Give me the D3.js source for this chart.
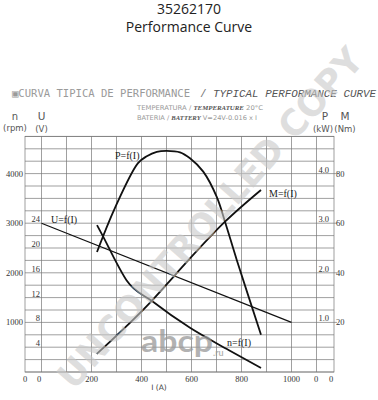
<!DOCTYPE html>
<html>
<head>
<meta charset="utf-8">
<script src="https://cdn.jsdelivr.net/npm/d3@7"></script>
<style>
  html, body { margin: 0; padding: 0; background: #fff; }
  svg { display: block; }
</style>
</head>
<body>
<div id="chart"></div>
<script>
// values
const currentI = [222, 260, 294, 340, 442, 594, 750, 878];
const speedN = [2960, 2600, 2260, 1850, 1430, 890, 440, 80];

const powerI = [222, 294, 386, 421, 461, 501, 554, 594, 647, 701, 734, 781, 878];
const powerP = [2.42, 3.31, 4.21, 4.35, 4.44, 4.46, 4.43, 4.31, 4.04, 3.53, 3.03, 2.26, 0.75];

const torqueI = [221, 441, 534, 594, 734, 878];
const torqueM = [7.3, 28.7, 39.1, 45.8, 60.6, 73.4];

const voltageI = [0, 1000];
const voltageU = [24, 8];

const iTicks = [200, 400, 600, 800, 1000];
const nTicks = [1000, 2000, 3000, 4000];
const uTicks = [4, 8, 12, 16, 20, 24];
const pTicks = [1.0, 2.0, 3.0, 4.0];
const mTicks = [20, 40, 60, 80];

const width = 378, height = 400;
const frame = { left: 25, right: 334, top: 136.4, bottom: 372 };

const svg = d3.select("#chart").append("svg")
    .attr("width", width)
    .attr("height", height);

// scales - all four y axes share the same grid
const x = d3.scaleLinear().domain([0, 1100]).range([41.5, 316.5]);
const yN = d3.scaleLinear().domain([0, 4750]).range([frame.bottom, frame.top]);
const yU = d3.scaleLinear().domain([0, 38]).range([frame.bottom, frame.top]);
const yP = d3.scaleLinear().domain([0, 4.75]).range([frame.bottom, frame.top]);
const yM = d3.scaleLinear().domain([0, 95]).range([frame.bottom, frame.top]);

// header
svg.append("text")
    .attr("x", 189).attr("y", 14)
    .attr("text-anchor", "middle")
    .style("font-family", "'Open Sans', sans-serif")
    .style("font-size", "14px")
    .attr("fill", "#222")
    .text("35262170");

svg.append("text")
    .attr("x", 189).attr("y", 32)
    .attr("text-anchor", "middle")
    .style("font-family", "'Open Sans', sans-serif")
    .style("font-size", "14px")
    .attr("fill", "#222")
    .text("Performance Curve");

svg.append("text")
    .attr("x", 12).attr("y", 97)
    .attr("textLength", 178).attr("lengthAdjust", "spacingAndGlyphs")
    .style("font-family", "'DejaVu Sans Mono', monospace")
    .style("font-size", "10.5px")
    .style("font-weight", "300")
    .attr("fill", "#9a9a9a")
    .text("\u25A3CURVA TIPICA DE PERFORMANCE");

svg.append("text")
    .attr("x", 200).attr("y", 97)
    .style("font-family", "'Liberation Mono', monospace")
    .style("font-size", "11px")
    .attr("fill", "#777")
    .text("/");

svg.append("text")
    .attr("x", 213).attr("y", 97)
    .attr("textLength", 163).attr("lengthAdjust", "spacingAndGlyphs")
    .style("font-family", "'Liberation Mono', monospace")
    .style("font-style", "italic")
    .style("font-size", "11px")
    .attr("fill", "#555")
    .text("TYPICAL PERFORMANCE CURVE");

const sub1 = svg.append("text")
    .attr("x", 137).attr("y", 110)
    .attr("textLength", 126).attr("lengthAdjust", "spacingAndGlyphs")
    .style("font-size", "6.5px")
    .attr("fill", "#999");
sub1.append("tspan").style("font-family", "'DejaVu Sans', sans-serif").text("TEMPERATURA / ");
sub1.append("tspan").style("font-family", "'Liberation Serif', serif")
    .style("font-style", "italic").style("font-weight", "bold").attr("fill", "#555")
    .text("TEMPERATURE");
sub1.append("tspan").style("font-family", "'DejaVu Sans', sans-serif").text("  20\u00B0C");

const sub2 = svg.append("text")
    .attr("x", 137).attr("y", 120)
    .attr("textLength", 120).attr("lengthAdjust", "spacingAndGlyphs")
    .style("font-size", "6.5px")
    .attr("fill", "#999");
sub2.append("tspan").style("font-family", "'DejaVu Sans', sans-serif").text("BATERIA / ");
sub2.append("tspan").style("font-family", "'Liberation Serif', serif")
    .style("font-style", "italic").style("font-weight", "bold").attr("fill", "#555")
    .text("BATTERY");
sub2.append("tspan").style("font-family", "'DejaVu Sans', sans-serif").text("  V=24V-0.016 x I");

// axis headings
const heads = [
    { t: "n", x: 15, y: 120, s: 10 },
    { t: "(rpm)", x: 15, y: 131, s: 8.5 },
    { t: "U", x: 41.5, y: 120, s: 10.5 },
    { t: "(V)", x: 41.5, y: 132, s: 8.5 },
    { t: "P", x: 325, y: 120, s: 10.5 },
    { t: "(kW)", x: 323, y: 132, s: 8.5 },
    { t: "M", x: 345, y: 120, s: 10.5 },
    { t: "(Nm)", x: 345, y: 132, s: 8.5 }
];
svg.selectAll("text.head")
    .data(heads)
    .join("text")
    .attr("class", "head")
    .attr("x", d => d.x).attr("y", d => d.y)
    .attr("text-anchor", "middle")
    .style("font-family", "'DejaVu Sans', sans-serif")
    .style("font-size", d => d.s + "px")
    .attr("fill", "#555")
    .text(d => d.t);

// grid
const grid = svg.append("g")
    .attr("stroke", "#777")
    .attr("stroke-width", 0.7)
    .attr("fill", "none");

grid.selectAll("line.h")
    .data(d3.range(0, 4751, 250))
    .join("line")
    .attr("x1", frame.left).attr("x2", frame.right)
    .attr("y1", d => yN(d)).attr("y2", d => yN(d));

grid.selectAll("line.v")
    .data(d3.range(0, 1101, 100))
    .join("line")
    .attr("x1", d => x(d)).attr("x2", d => x(d))
    .attr("y1", frame.top).attr("y2", frame.bottom);

grid.append("rect")
    .attr("x", frame.left).attr("y", frame.top)
    .attr("width", frame.right - frame.left)
    .attr("height", frame.bottom - frame.top);

// small ticks on the torque side
grid.selectAll("line.mt")
    .data(mTicks)
    .join("line")
    .attr("x1", frame.right).attr("x2", frame.right + 3)
    .attr("y1", d => yM(d)).attr("y2", d => yM(d));

const tickFont = "'Liberation Serif', serif";
const tickSize = "8.5px";

function tickLabels(data, xPos, yPos, anchor, fmt) {
    svg.append("g")
        .selectAll("text")
        .data(data)
        .join("text")
        .attr("x", xPos).attr("y", yPos)
        .attr("text-anchor", anchor)
        .style("font-family", tickFont)
        .style("font-size", tickSize)
        .attr("fill", "#333")
        .text(fmt);
}

tickLabels(nTicks, 23, d => yN(d) + 3, "end", d => d);
tickLabels(uTicks, 40, d => yU(d) - 1, "end", d => d);
tickLabels(pTicks, 329, d => yP(d) - 1, "end", d3.format(".1f"));
tickLabels(mTicks, 336, d => yM(d) + 3, "start", d => d);
tickLabels(iTicks, d => x(d), 382, "middle", d => d);

// zeros under each axis
tickLabels([25, 39, 316, 331], d => d, 382, "middle", () => "0");

svg.append("text")
    .attr("x", 159).attr("y", 390)
    .attr("text-anchor", "middle")
    .style("font-family", "'DejaVu Sans', sans-serif")
    .style("font-size", "7.5px")
    .attr("fill", "#444")
    .text("I (A)");

// curves
const curves = [
    { xs: voltageI, ys: voltageU, y: yU, w: 1.2, curve: d3.curveLinear },
    { xs: currentI, ys: speedN, y: yN, w: 1.8, curve: d3.curveMonotoneX },
    { xs: powerI, ys: powerP, y: yP, w: 1.8, curve: d3.curveCatmullRom },
    { xs: torqueI, ys: torqueM, y: yM, w: 1.8, curve: d3.curveMonotoneX }
];

curves.forEach(c => {
    const pts = c.xs.map((v, i) => [v, c.ys[i]]);
    const line = d3.line()
        .x(d => x(d[0]))
        .y(d => c.y(d[1]))
        .curve(c.curve);
    svg.append("path")
        .attr("d", line(pts))
        .attr("fill", "none")
        .attr("stroke", "#111")
        .attr("stroke-width", c.w);
});

const curveLabels = [
    { t: "P=f(I)", x: 115, y: 159 },
    { t: "U=f(I)", x: 51, y: 223 },
    { t: "M=f(I)", x: 269, y: 197 },
    { t: "n=f(I)", x: 227, y: 346 }
];
svg.selectAll("text.clabel")
    .data(curveLabels)
    .join("text")
    .attr("class", "clabel")
    .attr("x", d => d.x).attr("y", d => d.y)
    .style("font-family", "'Liberation Serif', serif")
    .style("font-size", "10px")
    .attr("fill", "#222")
    .text(d => d.t);

// watermarks
svg.append("text")
    .attr("transform", "translate(210,218) rotate(-48.5)")
    .attr("text-anchor", "middle")
    .attr("dy", "0.35em")
    .attr("textLength", 440).attr("lengthAdjust", "spacingAndGlyphs")
    .style("font-family", "'DejaVu Sans', sans-serif")
    .style("font-weight", "bold")
    .style("font-size", "36px")
    .attr("fill", "#c8c8c8")
    .attr("fill-opacity", 0.6)
    .text("UNCONTROLLED COPY");

svg.append("text")
    .attr("x", 141).attr("y", 352)
    .attr("textLength", 72).attr("lengthAdjust", "spacingAndGlyphs")
    .style("font-family", "Lato, sans-serif")
    .style("font-weight", "bold")
    .style("font-size", "30px")
    .attr("fill", "#999")
    .attr("fill-opacity", 0.75)
    .text("abcp");

svg.append("text")
    .attr("x", 213).attr("y", 356)
    .style("font-family", "Lato, sans-serif")
    .style("font-weight", "bold")
    .style("font-size", "9px")
    .attr("fill", "#999")
    .attr("fill-opacity", 0.75)
    .text(".ru");
</script>
</body>
</html>
